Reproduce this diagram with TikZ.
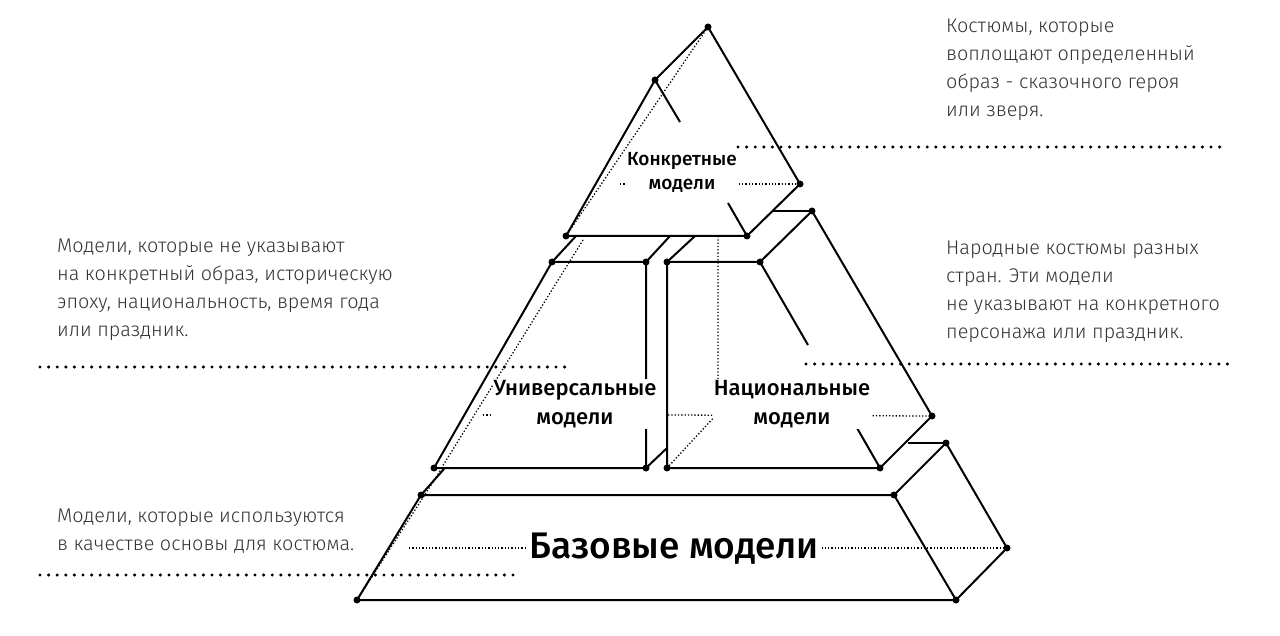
\documentclass[tikz,border=0pt]{standalone}
\usepackage{fontspec}
\setmainfont{Fira Sans}[UprightFont=* Light, BoldFont=* Medium]
\usetikzlibrary{calc}
\tikzset{
  edge/.style={line width=2pt, line join=round},
  hid/.style={dotted, line width=1.3pt},
  sep/.style={line width=3.4pt, dash pattern=on 0pt off 8.6pt, line cap=round},
  vtx/.style={circle, fill=black, inner sep=0pt, minimum size=7pt},
  note/.style={anchor=north west, align=left, font=\fontsize{19.8}{28}\selectfont, text=black!80, inner sep=0pt},
  lbl/.style={align=center, fill=white, inner sep=1pt}
}
\begin{document}
\begin{tikzpicture}[x=1pt,y=-1pt]
    \useasboundingbox (0,0) rectangle (1280,636);

    % Top block
    \coordinate (ta) at (708,27);  \coordinate (tl) at (655,80);
    \coordinate (tb) at (566,236); \coordinate (tc) at (747,236);
    \coordinate (tr) at (800,184);
    \draw[edge] (tl) -- (ta) -- (tr) -- (tc) -- (tb) -- (tl);
    \draw[edge] (tl) -- (680,122);
    \draw[edge] (728,203) -- (tc);
    \draw[hid] (ta) -- (tb);
    \draw[hid] (620,184) -- (tr);

    % Universal block
    \coordinate (ua) at (552,262); \coordinate (ub) at (646,262);
    \coordinate (uc) at (646,468); \coordinate (ud) at (434,468);
    \draw[edge] (ua) -- (ub) -- (uc) -- (ud) -- cycle;
    \draw[edge] (ua) -- (576,236);
    \draw[edge] (ub) -- (670,236);
    \draw[edge] (uc) -- (667,448);
    \draw[hid] (583,240) -- (442,467);
    \draw[hid] (483,415) -- (646,415);

    % National block
    \coordinate (na) at (667,262); \coordinate (nb) at (760,262);
    \coordinate (nc) at (880,468); \coordinate (nd) at (667,468);
    \coordinate (ne) at (812,211); \coordinate (nf) at (932,416);
    \draw[edge] (nb) -- (na) -- (nd) -- (nc) -- (nf) -- (ne) -- (nb);
    \draw[edge] (na) -- (695,236);
    \draw[edge] (773,211) -- (ne);
    \draw[edge] (nb) -- (808,345);
    \draw[edge] (853,421) -- (nc);
    \draw[hid] (718,236) -- (718,413) -- (nd);
    \draw[hid] (668,415) -- (nf);

    % Base block
    \coordinate (ba) at (421,495); \coordinate (bb) at (894,495);
    \coordinate (bc) at (956,600); \coordinate (bd) at (357,600);
    \coordinate (be) at (946,443); \coordinate (bf) at (1007,548);
    \draw[edge] (ba) -- (bb) -- (bc) -- (bd) -- cycle;
    \draw[edge] (bb) -- (be) -- (bf) -- (bc);
    \draw[edge] (908,443) -- (be);
    \draw[edge] (ba) -- (444,469);
    \draw[hid] (442,468) -- (bd);
    \draw[hid] (409,548) -- (bf);

    \foreach \p in {ta,tl,tb,tc,tr,ua,ub,uc,ud,na,nb,nc,nd,ne,nf,ba,bb,bc,bd,be,bf}
        \node[vtx] at (\p) {};

    % Block labels
    \node[lbl, font=\bfseries\fontsize{19}{24}\selectfont] (lconc) at (682,172) {Конкретные\\модели};
    \node[lbl, font=\bfseries\fontsize{22}{29}\selectfont] (luniv) at (575,404) {Универсальные\\модели};
    \node[lbl, font=\bfseries\fontsize{22}{29}\selectfont] (lnat) at (792,404) {Национальные\\модели};
    \node[lbl, font=\bfseries\fontsize{37}{40}\selectfont] (lbase) at (674,549) {Базовые модели};

    % Separators
    \draw[sep] (738,147) -- (1228,147);
    \draw[sep] (40,367) -- (572,367);
    \draw[sep] (806,364) -- (1228,364);
    \draw[sep] (40,575) -- (516,575);

    % Notes
    \node[note] (nconc) at (946,19) {Костюмы, которые\\воплощают определенный\\образ - сказочного героя\\или зверя.};
    \node[note] (nuniv) at (57,239) {Модели, которые не указывают\\на конкретный образ, историческую\\эпоху, национальность, время года\\или праздник.};
    \node[note] (nnat) at (946,241) {Народные костюмы разных\\стран. Эти модели\\не указывают на конкретного\\персонажа или праздник.};
    \node[note] (nbase) at (57,509) {Модели, которые используются\\в качестве основы для костюма.};
\end{tikzpicture}
\end{document}
